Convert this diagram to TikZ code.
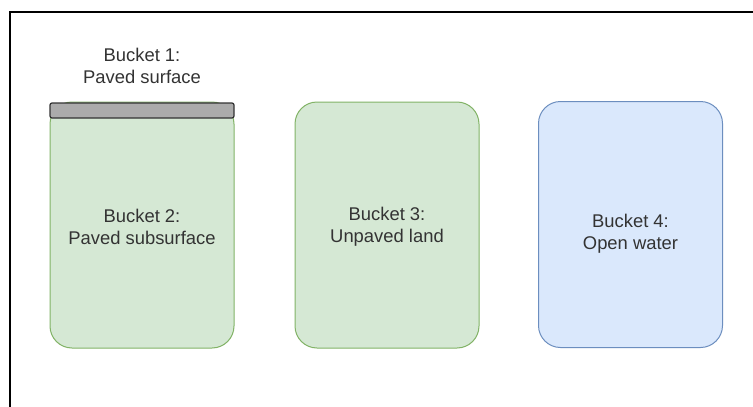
\documentclass[tikz,border=0pt]{standalone}
\usepackage{fontspec}
\setmainfont{Liberation Sans}
\definecolor{greenfill}{HTML}{D5E8D4}
\definecolor{greenline}{HTML}{82B366}
\definecolor{bluefill}{HTML}{DAE8FC}
\definecolor{blueline}{HTML}{6C8EBF}
\definecolor{barfill}{HTML}{ABABAB}
\definecolor{txt}{HTML}{333333}
\begin{document}
\begin{tikzpicture}[x=1pt,y=-1pt,
  bucket/.style={rounded corners=22pt, line width=1pt, minimum width=184pt, minimum height=246pt, inner sep=0pt},
  greenbucket/.style={bucket, draw=greenline, fill=greenfill},
  bluebucket/.style={bucket, draw=blueline, fill=bluefill},
  lbl/.style={text=txt, align=center, font=\fontsize{18.4}{22}\selectfont, inner sep=0pt},
  bar/.style={draw=txt, fill=barfill, line width=1.2pt, rounded corners=2pt, minimum width=184pt, minimum height=15pt, inner sep=0pt}]
\useasboundingbox (0,0) rectangle (753,407);
\fill[white] (0,0) rectangle (753,407);
\coordinate (fa) at (10,407);
\coordinate (fb) at (10,11.5);
\coordinate (fc) at (753,11.5);
\draw[line width=2pt, black] (fa) -- (fb) -- (fc);
\node[greenbucket] (b2) at (142,225) {};
\node[bar] (b1) at (142,110.5) {};
\node[greenbucket] (b3) at (387,225) {};
\node[bluebucket] (b4) at (630.5,224.5) {};
\node[lbl] (t1) at (142,66) {Bucket 1:\\Paved surface};
\node[lbl] (t2) at (142,227) {Bucket 2:\\Paved subsurface};
\node[lbl] (t3) at (387,227) {Bucket 3:\\Unpaved land};
\node[lbl] (t4) at (630.5,234) {Bucket 4:\\Open water};
\end{tikzpicture}
\end{document}
